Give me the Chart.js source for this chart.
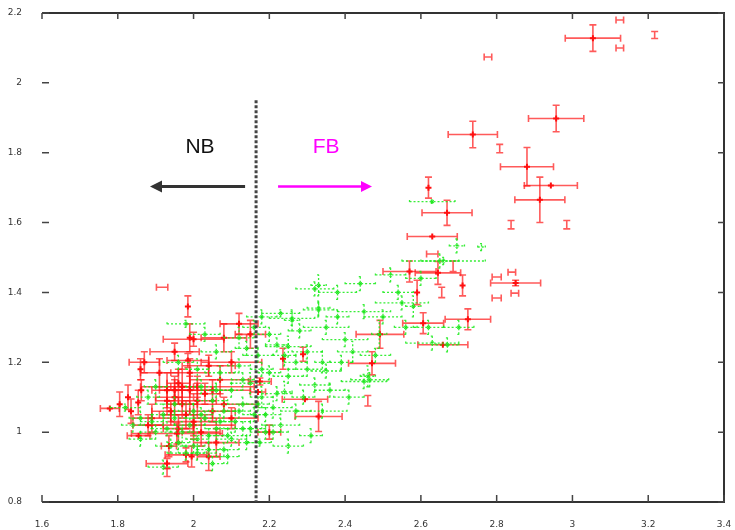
<!DOCTYPE html>
<html>
<head>
<meta charset="utf-8">
<script src="https://cdn.jsdelivr.net/npm/chart.js@4.4.0/dist/chart.umd.min.js"></script>
<style>
  html, body { margin: 0; padding: 0; background: #fff; }
  canvas { display: block; }
</style>
</head>
<body>
<canvas id="myChart" width="735" height="530"></canvas>
<script>
var xTicks = [1.6, 1.8, 2, 2.2, 2.4, 2.6, 2.8, 3, 3.2, 3.4]
var yTicks = [0.8, 1, 1.2, 1.4, 1.6, 1.8, 2, 2.2]

// each row: [x, y, x error, y error]
var redPoints = [
  [3.054, 2.128, 0.073, 0.038],
  [2.957, 1.898, 0.073, 0.038],
  [2.737, 1.852, 0.065, 0.038],
  [2.880, 1.760, 0.070, 0.055],
  [2.914, 1.665, 0.066, 0.065],
  [2.943, 1.706, 0.070, 0],
  [2.669, 1.628, 0.066, 0.036],
  [2.630, 1.560, 0.066, 0],
  [2.620, 1.700, 0, 0.030],
  [2.808, 1.812, 0, 0.012],
  [2.777, 2.074, 0.010, 0],
  [3.125, 2.180, 0.010, 0],
  [3.125, 2.100, 0.010, 0],
  [3.217, 2.137, 0, 0.010],
  [2.850, 1.427, 0.066, 0.008],
  [2.800, 1.444, 0.012, 0],
  [2.840, 1.458, 0.010, 0],
  [2.800, 1.384, 0.012, 0],
  [2.848, 1.398, 0.010, 0],
  [2.838, 1.594, 0, 0.012],
  [2.985, 1.594, 0, 0.012],
  [2.645, 1.456, 0.060, 0.033],
  [2.570, 1.460, 0.070, 0.030],
  [2.724, 1.323, 0.060, 0.030],
  [2.606, 1.312, 0.054, 0.030],
  [2.492, 1.280, 0.063, 0.040],
  [2.471, 1.197, 0.062, 0.033],
  [2.658, 1.250, 0.066, 0],
  [2.330, 1.045, 0.062, 0.043],
  [2.294, 1.094, 0.060, 0],
  [2.236, 1.210, 0, 0.030],
  [2.289, 1.223, 0, 0.020],
  [2.460, 1.090, 0, 0.015],
  [2.590, 1.400, 0, 0.035],
  [2.655, 1.400, 0, 0.015],
  [2.710, 1.420, 0, 0.030],
  [2.685, 1.475, 0, 0.015],
  [2.630, 1.510, 0.015, 0],
  [2.175, 1.145, 0.030, 0.010],
  [2.170, 1.115, 0.020, 0],
  [1.779, 1.068, 0.025, 0],
  [1.805, 1.080, 0, 0.035],
  [1.835, 1.060, 0, 0.035],
  [1.862, 1.120, 0, 0.030],
  [1.855, 0.990, 0.030, 0],
  [1.880, 1.020, 0.040, 0.030],
  [1.930, 0.910, 0.055, 0.015],
  [1.930, 0.885, 0, 0.012],
  [1.980, 0.935, 0.055, 0.020],
  [1.917, 1.415, 0.015, 0],
  [1.985, 1.360, 0, 0.030],
  [1.990, 1.270, 0, 0.040],
  [2.000, 1.266, 0.080, 0.020],
  [1.950, 1.230, 0.065, 0.025],
  [1.985, 1.205, 0.055, 0.020],
  [2.010, 1.130, 0.150, 0.030],
  [1.956, 0.996, 0.120, 0.030],
  [1.860, 1.180, 0, 0.030],
  [1.827, 1.100, 0, 0.035],
  [1.854, 1.085, 0, 0.035],
  [1.995, 0.930, 0, 0.030],
  [1.935, 0.960, 0.020, 0.030],
  [1.950, 1.100, 0.050, 0.050],
  [1.970, 1.080, 0.040, 0.040],
  [1.990, 1.120, 0.060, 0.040],
  [2.010, 1.090, 0.050, 0.050],
  [1.960, 1.140, 0.030, 0.040],
  [1.980, 1.050, 0.070, 0.040],
  [2.030, 1.110, 0.040, 0.030],
  [1.940, 1.060, 0.050, 0.030],
  [2.000, 1.030, 0.060, 0.050],
  [1.960, 1.010, 0.040, 0.040],
  [2.050, 1.060, 0.060, 0.030],
  [2.020, 1.000, 0.050, 0.040],
  [1.930, 1.120, 0.040, 0.050],
  [1.990, 1.170, 0.050, 0.040],
  [2.070, 1.150, 0.080, 0.040],
  [2.100, 1.200, 0.080, 0.030],
  [2.080, 1.270, 0.060, 0.040],
  [2.120, 1.310, 0.050, 0.030],
  [2.150, 1.280, 0.040, 0.040],
  [2.060, 0.970, 0.060, 0.040],
  [2.100, 1.040, 0.070, 0.030],
  [2.040, 0.930, 0.030, 0.040],
  [1.890, 1.040, 0.050, 0.040],
  [1.910, 1.170, 0.050, 0.040],
  [1.870, 1.200, 0.040, 0.030],
  [2.200, 1.000, 0.030, 0.020],
  [2.050, 1.120, 0.100, 0.030],
  [2.000, 1.020, 0.110, 0.030],
  [2.080, 1.080, 0.090, 0.020],
  [2.040, 1.190, 0.070, 0.030],
  [1.950, 1.120, 0.040, 0.040],
  [1.970, 1.130, 0.030, 0.050],
  [1.930, 1.090, 0.030, 0.040]
]

var greenPoints = [
  [1.820, 1.070, 0.040, 0.010],
  [1.880, 1.100, 0.030, 0.020],
  [1.900, 1.000, 0.040, 0.020],
  [1.920, 1.050, 0.030, 0.030],
  [1.940, 0.960, 0.040, 0.020],
  [1.950, 1.080, 0.050, 0.020],
  [1.970, 1.000, 0.030, 0.030],
  [1.980, 0.940, 0.050, 0.020],
  [2.000, 1.060, 0.040, 0.020],
  [2.010, 0.980, 0.030, 0.030],
  [2.020, 1.130, 0.040, 0.020],
  [2.030, 1.040, 0.050, 0.020],
  [2.040, 0.950, 0.030, 0.020],
  [2.050, 1.090, 0.040, 0.030],
  [2.060, 1.010, 0.030, 0.020],
  [2.070, 1.170, 0.040, 0.020],
  [2.080, 1.060, 0.030, 0.030],
  [2.090, 0.990, 0.050, 0.020],
  [2.100, 1.120, 0.030, 0.020],
  [2.110, 1.030, 0.040, 0.030],
  [2.120, 1.190, 0.030, 0.020],
  [2.130, 1.080, 0.040, 0.020],
  [2.140, 0.970, 0.030, 0.020],
  [2.150, 1.140, 0.050, 0.030],
  [2.160, 1.050, 0.030, 0.020],
  [2.170, 1.220, 0.040, 0.020],
  [2.180, 1.100, 0.030, 0.030],
  [2.190, 1.000, 0.040, 0.020],
  [2.200, 1.170, 0.030, 0.020],
  [2.210, 1.070, 0.050, 0.030],
  [2.220, 1.250, 0.030, 0.020],
  [1.980, 1.310, 0.050, 0.010],
  [2.030, 1.280, 0.040, 0.020],
  [2.120, 1.270, 0.040, 0.030],
  [2.160, 1.300, 0.030, 0.020],
  [1.960, 1.200, 0.040, 0.020],
  [2.010, 1.180, 0.030, 0.030],
  [2.060, 1.230, 0.040, 0.020],
  [1.920, 0.900, 0.040, 0.020],
  [2.010, 0.940, 0.050, 0.020],
  [2.090, 0.930, 0.030, 0.020],
  [1.860, 0.980, 0.030, 0.020],
  [1.900, 1.130, 0.030, 0.020],
  [2.140, 1.240, 0.030, 0.020],
  [2.180, 1.330, 0.040, 0.020],
  [2.200, 1.280, 0.030, 0.020],
  [2.050, 0.910, 0.030, 0.020],
  [2.130, 1.010, 0.050, 0.020],
  [2.190, 1.050, 0.040, 0.020],
  [1.860, 1.040, 0.030, 0.020],
  [1.890, 1.030, 0.030, 0.020],
  [1.930, 1.010, 0.040, 0.020],
  [1.960, 0.970, 0.030, 0.020],
  [1.990, 1.020, 0.040, 0.020],
  [2.020, 1.050, 0.030, 0.020],
  [2.040, 0.990, 0.040, 0.020],
  [2.070, 1.030, 0.030, 0.020],
  [2.100, 0.980, 0.040, 0.020],
  [2.120, 1.060, 0.030, 0.020],
  [2.150, 1.010, 0.040, 0.020],
  [2.170, 1.080, 0.030, 0.020],
  [1.950, 1.040, 0.030, 0.020],
  [2.060, 1.120, 0.040, 0.020],
  [2.130, 1.150, 0.030, 0.020],
  [2.180, 1.180, 0.030, 0.020],
  [1.840, 1.020, 0.030, 0.020],
  [2.000, 0.960, 0.030, 0.020],
  [2.080, 0.950, 0.040, 0.020],
  [2.230, 1.340, 0.050, 0.010],
  [2.240, 1.220, 0.030, 0.030],
  [2.250, 1.160, 0.040, 0.020],
  [2.270, 1.060, 0.040, 0.020],
  [2.230, 1.020, 0.050, 0.020],
  [2.290, 1.100, 0.030, 0.020],
  [2.300, 1.230, 0.040, 0.020],
  [2.280, 1.290, 0.030, 0.020],
  [2.360, 1.120, 0.040, 0.020],
  [2.390, 1.200, 0.030, 0.020],
  [2.420, 1.230, 0.040, 0.030],
  [2.340, 1.060, 0.065, 0.020],
  [2.210, 1.000, 0.040, 0.020],
  [2.175, 0.970, 0.030, 0.010],
  [2.450, 1.145, 0.060, 0.020],
  [2.320, 1.410, 0.050, 0.020],
  [2.330, 1.420, 0.020, 0.030],
  [2.380, 1.400, 0.050, 0.020],
  [2.260, 1.326, 0.060, 0.020],
  [2.260, 1.320, 0.020, 0.030],
  [2.330, 1.350, 0.040, 0.020],
  [2.330, 1.355, 0.030, 0.020],
  [2.450, 1.345, 0.070, 0.020],
  [2.350, 1.300, 0.060, 0.020],
  [2.250, 1.245, 0.060, 0.030],
  [2.400, 1.265, 0.060, 0.020],
  [2.340, 1.200, 0.020, 0.030],
  [2.350, 1.175, 0.040, 0.020],
  [2.320, 1.135, 0.040, 0.020],
  [2.240, 1.115, 0.020, 0.030],
  [2.220, 1.110, 0.040, 0.020],
  [2.465, 1.150, 0.050, 0.020],
  [2.460, 1.160, 0.020, 0.030],
  [2.550, 1.370, 0.070, 0.020],
  [2.580, 1.360, 0.020, 0.030],
  [2.440, 1.425, 0.040, 0.020],
  [2.520, 1.450, 0.040, 0.020],
  [2.650, 1.490, 0.050, 0.020],
  [2.695, 1.533, 0.020, 0.020],
  [2.760, 1.530, 0.010, 0.010],
  [2.670, 1.250, 0.030, 0.020],
  [2.620, 1.300, 0.040, 0.020],
  [2.490, 1.280, 0.020, 0.040],
  [2.660, 1.490, 0.110, 0.010],
  [2.630, 1.255, 0.070, 0.020],
  [2.630, 1.660, 0.060, 0.005],
  [2.540, 1.400, 0.040, 0.020],
  [2.500, 1.330, 0.050, 0.020],
  [2.560, 1.300, 0.030, 0.020],
  [2.480, 1.220, 0.040, 0.020],
  [2.380, 1.330, 0.030, 0.020],
  [2.300, 1.180, 0.050, 0.020],
  [2.270, 1.200, 0.030, 0.020],
  [2.700, 1.300, 0.040, 0.020],
  [2.600, 1.440, 0.040, 0.020],
  [2.410, 1.100, 0.040, 0.020],
  [2.310, 0.990, 0.030, 0.020],
  [2.250, 0.960, 0.040, 0.020]
]

// boundary between the NB and FB regions
var boundaryX = 2.165
var boundaryTop = 1.95

function drawBars(ctx, xs, ys, pts, cap) {
  pts.forEach(function(p) {
    var cx = xs.getPixelForValue(p[0])
    var cy = ys.getPixelForValue(p[1])
    ctx.beginPath()
    if (p[2] > 0) {
      var x0 = xs.getPixelForValue(p[0] - p[2])
      var x1 = xs.getPixelForValue(p[0] + p[2])
      ctx.moveTo(x0, cy); ctx.lineTo(x1, cy)
      ctx.moveTo(x0, cy - cap); ctx.lineTo(x0, cy + cap)
      ctx.moveTo(x1, cy - cap); ctx.lineTo(x1, cy + cap)
    }
    if (p[3] > 0) {
      var y0 = ys.getPixelForValue(p[1] - p[3])
      var y1 = ys.getPixelForValue(p[1] + p[3])
      ctx.moveTo(cx, y0); ctx.lineTo(cx, y1)
      ctx.moveTo(cx - cap, y0); ctx.lineTo(cx + cap, y0)
      ctx.moveTo(cx - cap, y1); ctx.lineTo(cx + cap, y1)
    }
    ctx.stroke()
  })
}

var errorBars = {
  id: 'errorBars',
  beforeDatasetDraw: function(chart, args) {
    var ds = chart.data.datasets[args.index]
    var ctx = chart.ctx
    var ca = chart.chartArea
    ctx.save()
    ctx.beginPath()
    ctx.rect(ca.left, ca.top, ca.right - ca.left, ca.bottom - ca.top)
    ctx.clip()
    ctx.strokeStyle = ds.barColor
    ctx.lineWidth = ds.barWidth
    ctx.setLineDash(ds.barDash)
    drawBars(ctx, chart.scales.x, chart.scales.y, ds.rows, ds.cap)
    ctx.restore()
  }
}

function arrow(ctx, x0, x1, y, color, width, head) {
  var dir = x1 > x0 ? 1 : -1
  ctx.strokeStyle = color
  ctx.fillStyle = color
  ctx.lineWidth = width
  ctx.beginPath()
  ctx.moveTo(x0, y); ctx.lineTo(x1 - dir * head, y)
  ctx.stroke()
  ctx.beginPath()
  ctx.moveTo(x1, y)
  ctx.lineTo(x1 - dir * head, y - head * 0.5)
  ctx.lineTo(x1 - dir * head, y + head * 0.5)
  ctx.closePath()
  ctx.fill()
}

var decorations = {
  id: 'decorations',
  afterDraw: function(chart) {
    var ctx = chart.ctx
    var ca = chart.chartArea
    var xs = chart.scales.x, ys = chart.scales.y
    ctx.save()

    // frame
    ctx.strokeStyle = '#333'
    ctx.lineWidth = 2
    ctx.beginPath()
    ctx.moveTo(ca.left, ca.top); ctx.lineTo(ca.right, ca.top)
    ctx.lineTo(ca.right, ca.bottom); ctx.lineTo(ca.left, ca.bottom)
    ctx.stroke()

    // inward ticks on all four sides
    ctx.lineWidth = 1.5
    ctx.strokeStyle = '#444'
    ctx.beginPath()
    xTicks.forEach(function(v) {
      var px = xs.getPixelForValue(v)
      ctx.moveTo(px, ca.bottom); ctx.lineTo(px, ca.bottom - 7)
      ctx.moveTo(px, ca.top); ctx.lineTo(px, ca.top + 6)
    })
    yTicks.forEach(function(v) {
      var py = ys.getPixelForValue(v)
      ctx.moveTo(ca.left, py); ctx.lineTo(ca.left + 7, py)
      ctx.moveTo(ca.right, py); ctx.lineTo(ca.right - 6, py)
    })
    ctx.stroke()

    // dotted boundary line
    var bx = xs.getPixelForValue(boundaryX)
    ctx.strokeStyle = '#444'
    ctx.lineWidth = 3
    ctx.setLineDash([3, 2])
    ctx.beginPath()
    ctx.moveTo(bx, ys.getPixelForValue(boundaryTop))
    ctx.lineTo(bx, ca.bottom)
    ctx.stroke()
    ctx.setLineDash([])

    // arrows and region names
    var ay = ys.getPixelForValue(1.703)
    arrow(ctx, xs.getPixelForValue(2.136), xs.getPixelForValue(1.885), ay, '#333', 3, 12)
    arrow(ctx, xs.getPixelForValue(2.223), xs.getPixelForValue(2.471), ay, '#ff00ff', 2.5, 11)

    ctx.font = '21px "Liberation Sans", Arial, sans-serif'
    ctx.textAlign = 'center'
    ctx.textBaseline = 'middle'
    ctx.fillStyle = '#111'
    ctx.fillText('NB', xs.getPixelForValue(2.017), ys.getPixelForValue(1.815))
    ctx.fillStyle = '#ff00ff'
    ctx.fillText('FB', xs.getPixelForValue(2.35), ys.getPixelForValue(1.815))
    ctx.restore()
  }
}

function toXY(rows) {
  return rows.map(function(r) { return { x: r[0], y: r[1] } })
}

// tiny measurements show only their bars, no centre mark
function markSize(rows, size) {
  return rows.map(function(r) { return (r[2] < 0.02 && r[3] < 0.02) ? 0 : size })
}

var tickFont = { family: '"DejaVu Sans", sans-serif', size: 9 }

var myChart = document.getElementById('myChart').getContext('2d')
var chart = new Chart(myChart, {
  type: 'scatter',
  data: {
    datasets: [
      {
        label: 'green',
        data: toXY(greenPoints),
        rows: greenPoints,
        barColor: 'rgba(20,235,20,0.85)',
        barWidth: 1.3,
        barDash: [2, 2],
        cap: 1.5,
        pointStyle: 'crossRot',
        pointRadius: markSize(greenPoints, 2),
        borderColor: '#1ee61e',
        borderWidth: 1.2,
        backgroundColor: '#1ee61e'
      },
      {
        label: 'red',
        data: toXY(redPoints),
        rows: redPoints,
        barColor: 'rgba(255,20,20,0.7)',
        barWidth: 1.6,
        barDash: [],
        cap: 3.5,
        pointStyle: 'cross',
        pointRadius: markSize(redPoints, 3),
        borderColor: '#ff1010',
        borderWidth: 2,
        backgroundColor: '#ff1010'
      }
    ]
  },
  options: {
    responsive: false,
    animation: false,
    layout: { padding: { top: 13, right: 11, left: 0, bottom: 0 } },
    plugins: { legend: { display: false }, tooltip: { enabled: false } },
    scales: {
      x: {
        type: 'linear',
        min: 1.6,
        max: 3.4,
        grid: { display: false },
        border: { display: false },
        afterBuildTicks: function(s) { s.ticks = xTicks.map(function(v) { return { value: v } }) },
        afterFit: function(s) { s.height = 28; s.paddingLeft = 0; s.paddingRight = 0 },
        ticks: {
          padding: 9,
          color: '#333',
          font: tickFont,
          maxRotation: 0,
          autoSkip: false,
          callback: function(v) { return String(parseFloat(v.toFixed(1))) }
        }
      },
      y: {
        type: 'linear',
        min: 0.8,
        max: 2.2,
        grid: { display: false },
        border: { display: false },
        afterBuildTicks: function(s) { s.ticks = yTicks.map(function(v) { return { value: v } }) },
        afterFit: function(s) { s.width = 42; s.paddingTop = 0; s.paddingBottom = 0 },
        ticks: {
          padding: 12,
          color: '#333',
          font: tickFont,
          autoSkip: false,
          callback: function(v) { return String(parseFloat(v.toFixed(1))) }
        }
      }
    }
  },
  plugins: [errorBars, decorations]
})
</script>
</body>
</html>
